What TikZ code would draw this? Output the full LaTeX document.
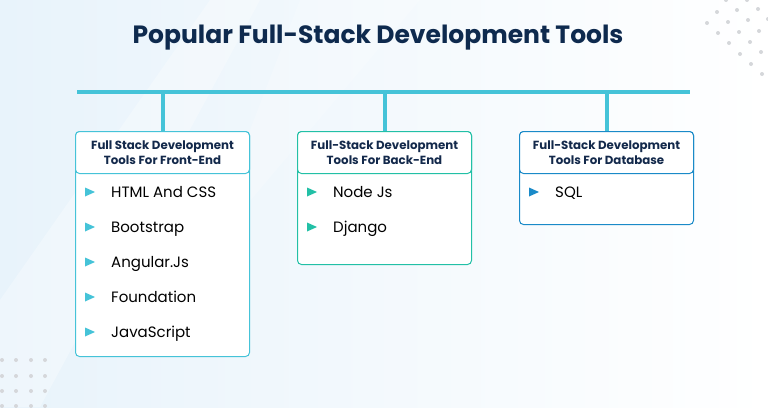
\documentclass[tikz,border=0pt]{standalone}
\usepackage{fontspec}
\setmainfont{Poppins}
\usetikzlibrary{positioning}
\definecolor{titleNavy}{HTML}{0E2A4E}
\definecolor{headNavy}{HTML}{13294B}
\definecolor{barCyan}{HTML}{45C3D8}
\definecolor{accentTeal}{HTML}{22C0A6}
\definecolor{accentBlue}{HTML}{1A8AC8}
\definecolor{dotGray}{HTML}{D5D7DA}
\definecolor{bgBlue}{HTML}{E8F3FB}

\begin{document}
\begin{tikzpicture}[x=1pt, y=-1pt,
    panel/.style={draw, line width=1pt, rounded corners=4pt, fill=white, minimum width=174pt, anchor=north, inner sep=0pt},
    head/.style={panel, minimum height=42pt, align=center, font=\fontsize{11.8}{14.5}\selectfont\bfseries, text=headNavy},
    item/.style={anchor=base west, inner sep=0pt, font=\fontsize{15}{17}\selectfont},
    link/.style={barCyan, line width=4pt},
    dot/.style={dotGray},
  ]
    \useasboundingbox (0,0) rectangle (768,407);
    \fill[left color=bgBlue, right color=white] (0,0) rectangle (768,407);
    \fill[white, opacity=0.3] (0,300) -- (210,0) -- (260,0) -- (40,407) -- (0,407) -- cycle;
    \fill[white, opacity=0.2] (300,0) -- (420,0) -- (200,260) -- cycle;

    \foreach \x/\y in {726/0, 747/0, 717/12, 737/10, 758/9, 707/23, 728/22, 748/20, 768/19,
                       718/33, 739/32, 759/31, 729/43, 750/42, 740/54, 761/52, 751/64, 762/74}
      \fill[dot] (\x,\y) circle (2);
    \foreach \x in {2,16,31,45}
      \foreach \y in {360,376,391,406}
        \fill[dot] (\x,\y) circle (2);

    \node[font=\fontsize{25}{28}\selectfont\bfseries, text=titleNavy] (title) at (378,38) {Popular Full-Stack Development Tools};

    \coordinate (barL) at (77,92);
    \coordinate (barR) at (690,92);
    \draw[link] (barL) -- (barR);

    \node[panel, draw=barCyan, minimum height=225pt] (feBox) at (162.5,131) {};
    \node[head, draw=barCyan] (feHead) at (162.5,131) {Full Stack Development\\Tools For Front-End};
    \node[panel, draw=accentTeal, minimum height=133pt] (beBox) at (384.5,131) {};
    \node[head, draw=accentTeal] (beHead) at (384.5,131) {Full-Stack Development\\Tools For Back-End};
    \node[panel, draw=accentBlue, minimum height=93pt] (dbBox) at (606.5,131) {};
    \node[head, draw=accentBlue] (dbHead) at (606.5,131) {Full-Stack Development\\Tools For Database};

    \draw[link] (feHead.north) -- (feHead.north |- barL);
    \draw[link] (beHead.north) -- (beHead.north |- barL);
    \draw[link] (dbHead.north) -- (dbHead.north |- barL);

    \foreach \t [count=\i] in {HTML And CSS, Bootstrap, Angular.Js, Foundation, JavaScript} {
      \fill[barCyan] (85,157+35*\i-4.5) -- ++(10,4.5) -- ++(-10,4.5) -- cycle;
      \node[item] (fe-\i) at (111,162.5+35*\i) {\t};
    }
    \foreach \t [count=\i] in {Node Js, Django} {
      \fill[accentTeal] (307,157+35*\i-4.5) -- ++(10,4.5) -- ++(-10,4.5) -- cycle;
      \node[item] (be-\i) at (333,162.5+35*\i) {\t};
    }
    \fill[accentBlue] (529,187.5) -- ++(10,4.5) -- ++(-10,4.5) -- cycle;
    \node[item] (db-1) at (555,197.5) {SQL};
  \end{tikzpicture}
\end{document}
